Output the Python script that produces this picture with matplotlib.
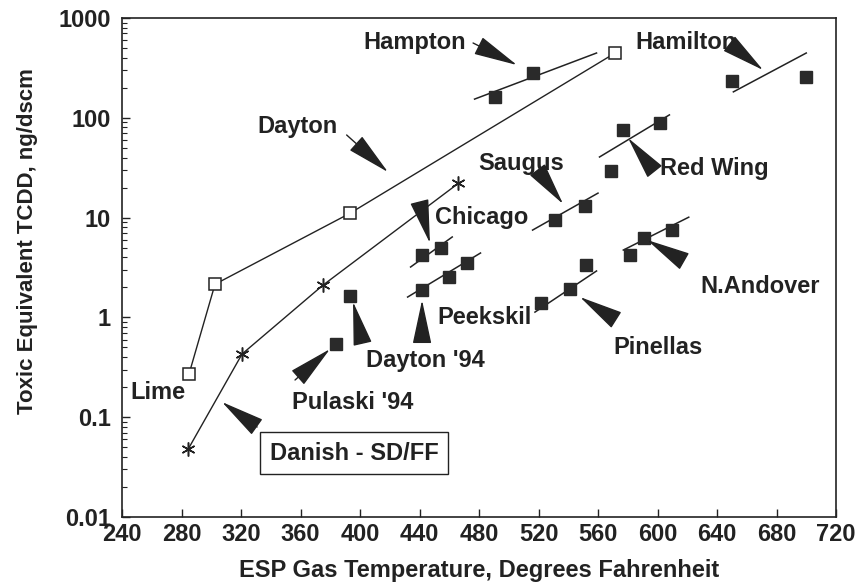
import numpy as np
import matplotlib.pyplot as plt
from matplotlib.ticker import FixedLocator, LogLocator, NullFormatter

# ---- data ----
dayton_t = [285, 302.5, 393, 571.5]
dayton_v = [0.27, 2.15, 11.0, 446]

danish_t = [284.5, 320.7, 375, 466]
danish_v = [0.048, 0.43, 2.1, 22.0]

hampton_t = [491, 516]
hampton_v = [162, 281]
hampton_fit_t = [477, 559]
hampton_fit_v = [154, 446]

hamilton_t = [650, 700]
hamilton_v = [234, 257]
hamilton_fit_t = [651, 700]
hamilton_fit_v = [182, 446]

redwing_t = [569, 577, 602]
redwing_v = [29.3, 75.5, 88.7]
redwing_fit_t = [561, 608]
redwing_fit_v = [40.5, 107]

saugus_t = [531, 551]
saugus_v = [9.5, 13.1]
saugus_fit_t = [516, 560]
saugus_fit_v = [7.5, 17.6]

chicago_t = [442, 454.5]
chicago_v = [4.2, 5.0]
chicago_fit_t = [434, 462]
chicago_fit_v = [3.2, 6.4]

peekskill_t = [442, 460, 472]
peekskill_v = [1.88, 2.54, 3.5]
peekskill_fit_t = [432, 481]
peekskill_fit_v = [1.6, 4.42]

pinellas_t = [522, 541, 552]
pinellas_v = [1.39, 1.93, 3.35]
pinellas_fit_t = [517.6, 559]
pinellas_fit_v = [1.13, 2.92]

andover_t = [581.5, 591, 609.7]
andover_v = [4.2, 6.25, 7.5]
andover_fit_t = [577, 621]
andover_fit_v = [4.73, 10.1]

dayton94_t = [393]
dayton94_v = [1.64]
pulaski94_t = [384]
pulaski94_v = [0.54]

x_ticks = list(range(240, 721, 40))
y_ticks = [0.01, 0.1, 1, 10, 100, 1000]
y_labels = ['0.01', '0.1', '1', '10', '100', '1000']

plt.rcParams['font.family'] = ['Liberation Sans', 'DejaVu Sans']
plt.rcParams['font.weight'] = 'bold'
ink = '#222222'

fig = plt.figure(figsize=(8.6, 5.85), dpi=100)
ax = fig.add_axes([0.1419, 0.1162, 0.8302, 0.8530])
ax.set_yscale('log')
ax.set_xlim(240, 720)
ax.set_ylim(0.01, 1000)

# main curves
ax.plot(dayton_t, dayton_v, '-', color=ink, lw=1, marker='s', ms=9,
        mfc='white', mec=ink, mew=1.1)
ax.plot(danish_t, danish_v, '-', color=ink, lw=1, marker=(6, 2, 0), ms=10,
        mec=ink, mew=1.1)

# fitted segments for the single plants
fits = [(hampton_fit_t, hampton_fit_v), (hamilton_fit_t, hamilton_fit_v),
        (redwing_fit_t, redwing_fit_v), (saugus_fit_t, saugus_fit_v),
        (chicago_fit_t, chicago_fit_v), (peekskill_fit_t, peekskill_fit_v),
        (pinellas_fit_t, pinellas_fit_v), (andover_fit_t, andover_fit_v)]
for ft, fv in fits:
    ax.plot(ft, fv, '-', color=ink, lw=1.1)

pts = [(hampton_t, hampton_v), (hamilton_t, hamilton_v),
       (redwing_t, redwing_v), (saugus_t, saugus_v),
       (chicago_t, chicago_v), (peekskill_t, peekskill_v),
       (pinellas_t, pinellas_v), (andover_t, andover_v),
       (dayton94_t, dayton94_v), (pulaski94_t, pulaski94_v)]
for pt, pv in pts:
    ax.plot(pt, pv, 's', ms=8.5, color='#2a2a2a', mec='#2a2a2a')

# labels
labels = [
    ('Hampton', 437, 562), ('Dayton', 358, 81), ('Hamilton', 619, 562),
    ('Red Wing', 638, 31.4), ('Saugus', 508, 35.2), ('Chicago', 482, 10.1),
    ('Peekskil', 484, 0.99), ("Dayton '94", 444, 0.374),
    ("Pulaski '94", 395, 0.139), ('Lime', 264, 0.175),
    ('Pinellas', 600, 0.505), ('N.Andover', 669, 2.02),
]
for txt, lx, ly in labels:
    ax.text(lx, ly, txt, fontsize=17, fontweight='bold', color=ink,
            ha='center', va='center')
ax.text(396, 0.0438, 'Danish - SD/FF', fontsize=17, fontweight='bold',
        color=ink, ha='center', va='center',
        bbox=dict(boxstyle='square,pad=0.4', fc='white', ec=ink, lw=1))

# wedge arrows: (tail, tip)
arrows = [
    ((391, 67.3), (418.8, 28.6)),
    ((476, 562), (505.5, 338)),
    ((655.5, 456), (671, 301)),
    ((593.6, 35.2), (580.2, 62.8)),
    ((524.4, 23.8), (536.5, 13.7)),
    ((441.7, 11.4), (447, 5.56)),
    ((441.7, 0.698), (441.7, 1.49)),
    ((401.3, 0.58), (395.3, 1.43)),
    ((356.3, 0.236), (379.8, 0.482)),
    ((330.8, 0.0798), (307.2, 0.142)),
    ((566, 1.08), (547.9, 1.6)),
    ((616.5, 3.76), (593, 5.97)),
]
for tail, tip in arrows:
    ax.annotate('', xy=tip, xytext=tail,
                arrowprops=dict(arrowstyle='-|>,head_length=1.4,head_width=0.3',
                                color=ink, lw=1, shrinkA=0, shrinkB=0,
                                mutation_scale=20))

# axes styling
ax.xaxis.set_major_locator(FixedLocator(x_ticks))
ax.set_xticklabels([str(t) for t in x_ticks])
ax.yaxis.set_major_locator(FixedLocator(y_ticks))
ax.set_yticklabels(y_labels)
ax.yaxis.set_minor_locator(LogLocator(base=10, subs=np.arange(2, 10)))
ax.yaxis.set_minor_formatter(NullFormatter())
ax.tick_params(which='both', direction='in', colors=ink, top=False, right=False)
ax.tick_params(which='major', length=6, width=1, labelsize=17)
ax.tick_params(axis='x', which='major', pad=4)
ax.tick_params(axis='y', which='major', pad=8)
ax.tick_params(which='minor', length=3.5, width=0.8)
for lab in ax.get_xticklabels() + ax.get_yticklabels():
    lab.set_fontweight('bold')
for sp in ax.spines.values():
    sp.set_color(ink)
    sp.set_linewidth(1.2)

ax.set_xlabel('ESP Gas Temperature, Degrees Fahrenheit', fontsize=17,
              fontweight='bold', color=ink, labelpad=10)
ax.set_ylabel('Toxic Equivalent TCDD, ng/dscm', fontsize=16,
              fontweight='bold', color=ink)
ax.yaxis.set_label_coords(-0.118, 0.553)

fig.savefig('out.png', dpi=100)
